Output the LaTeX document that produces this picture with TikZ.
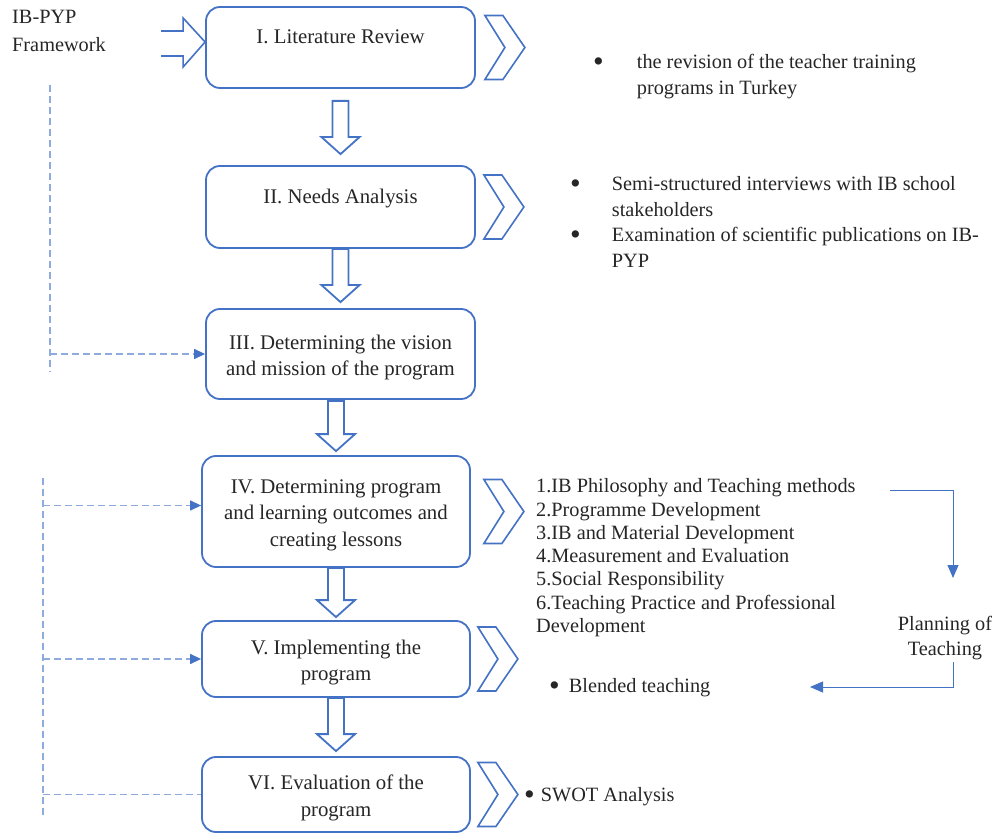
\documentclass[tikz,border=0pt]{standalone}
\usepackage{fontspec}
\setmainfont{Liberation Serif}
\usetikzlibrary{arrows.meta,calc}
\definecolor{bleu}{RGB}{68,114,196}
\definecolor{bleuclair}{RGB}{143,170,220}
\definecolor{texte}{RGB}{38,38,38}
\newcommand{\puce}{\raisebox{-3pt}{\scalebox{1.5}{\textbullet}}}
\newcommand{\haut}{\rule{0pt}{21pt}}

\begin{document}
\begin{tikzpicture}[x=1pt,y=-1pt,
  box/.style={draw=bleu,line width=1.8pt,rounded corners=14pt,fill=white,
    align=center,text=texte,font=\fontsize{20.8}{26.5}\selectfont},
  chevron/.style={draw=bleu,line width=1.6pt,line join=miter},
  bloc/.style={draw=bleu,line width=1.8pt,fill=white,line join=miter},
  tirets/.style={draw=bleuclair,line width=1.3pt,dash pattern=on 7pt off 4pt},
  pointe/.style={-{Triangle[color=bleu,length=11pt,width=10pt]}},
  trait/.style={draw=bleu,line width=1pt,-{Triangle[length=13pt,width=11pt]}},
  txt/.style={anchor=west,inner sep=0pt,text=texte,font=\fontsize{20.3}{25.5}\selectfont}]
\useasboundingbox (0,0) rectangle (1002,834);

% Les etapes
\node[box,minimum width=269pt,minimum height=81pt] (b1) at (340.5,47.5) {\haut I. Literature Review\\[2pt]\mbox{}};
\node[box,minimum width=269pt,minimum height=82pt] (b2) at (340.5,207) {\haut II. Needs Analysis\\[2pt]\mbox{}};
\node[box,minimum width=269pt,minimum height=90pt] (b3) at (340.5,354) {\haut III. Determining the vision\\and mission of the program};
\node[box,minimum width=268pt,minimum height=111pt] (b4) at (336,511.5) {\haut IV. Determining program\\and learning outcomes and\\creating lessons};
\node[box,minimum width=268pt,minimum height=76pt] (b5) at (336,659) {\haut V. Implementing the\\program};
\node[box,minimum width=268pt,minimum height=75pt] (b6) at (336,794.5) {\haut VI. Evaluation of the\\program};

% Les fleches entre etapes
\foreach \a/\b/\g/\h in {b1/b2/12/11, b2/b3/0/6, b3/b4/1/4, b4/b5/0/3, b5/b6/0/5}
  \draw[bloc] ($(\a.south -| \b.north)+(-8,\g)$) -- ($(\a.south -| \b.north)+(8,\g)$)
    -- ($(\b.north)+(8,-\h-17)$) -- ++(11,0) -- ($(\b.north)+(0,-\h)$)
    -- ($(\b.north)+(-19,-\h-17)$) -- ++(11,0) -- cycle;

% Les chevrons
\foreach \b/\d in {b1/9, b2/8, b4/13, b5/7, b6/7}
  \draw[chevron] ($(\b.east)+(\d,-32)$) -- ++(18,0) -- ++(22,32) -- ++(-22,32)
    -- ++(-18,0) -- ++(20,-32) -- cycle;

% Cadre IB-PYP
\node[txt,font=\fontsize{20.3}{27.5}\selectfont] (ib) at (12,32) {\begin{tabular}{@{}l@{}}IB-PYP\\Framework\end{tabular}};
\coordinate (tip) at ([yshift=5.5pt]b1.west);
\draw[chevron] ($(tip)+(-44,-11)$) -- ++(22,0) -- ++(0,-13) -- (tip) -- ++(-22,25)
  -- ++(0,-11) -- ++(-22,0);

% Les retours en pointilles
\coordinate (d1h) at (50,85);
\coordinate (d1b) at (50,372);
\draw[tirets] (d1h) -- (d1b);
\draw[tirets,pointe] (d1h |- b3.west) -- (b3.west);
\coordinate (d2h) at (43,478);
\coordinate (d2b) at (43,815);
\draw[tirets] (d2h) -- (d2b);
\draw[tirets,pointe] ($(d2h |- b4.west)+(0,-6)$) -- ($(b4.west)+(0,-6)$);
\draw[tirets,pointe] (d2h |- b5.west) -- (b5.west);
\draw[tirets] (d2h |- b6.west) -- (b6.west);

% Les textes a droite
\node[txt,font=\fontsize{20.3}{26}\selectfont] (r1) at (593,76.5) {\begin{tabular}{@{}l@{\hspace{33pt}}l@{}}\puce & the revision of the teacher training\\ & programs in Turkey\end{tabular}};
\node[txt,font=\fontsize{20.3}{25.7}\selectfont] (r2) at (570,224) {\begin{tabular}{@{}l@{\hspace{31pt}}l@{}}\puce & Semi-structured interviews with IB school\\ & stakeholders\\\puce & Examination of scientific publications on IB-\\ & PYP\end{tabular}};
\node[txt,font=\fontsize{20.3}{23.3}\selectfont] (r4) at (536,558) {\begin{tabular}{@{}l@{}}1.IB Philosophy and Teaching methods\\2.Programme Development\\3.IB and Material Development\\4.Measurement and Evaluation\\5.Social Responsibility\\6.Teaching Practice and Professional\\Development\end{tabular}};
\node[txt] (r5) at (549,688) {\puce\hspace{9pt}Blended teaching};
\node[txt] (r6) at (524,797) {\puce\hspace{6pt}SWOT Analysis};

% Planification
\node[txt,anchor=center] (plan) at (945,638) {\begin{tabular}{@{}c@{}}Planning of\\Teaching\end{tabular}};
\coordinate (p1) at (890,490);
\coordinate (p2) at (953,578);
\coordinate (p3) at (953,662);
\coordinate (p4) at (810,687);
\draw[trait] (p1) -| (p2);
\draw[trait] (p3) |- (p4);

\end{tikzpicture}
\end{document}
